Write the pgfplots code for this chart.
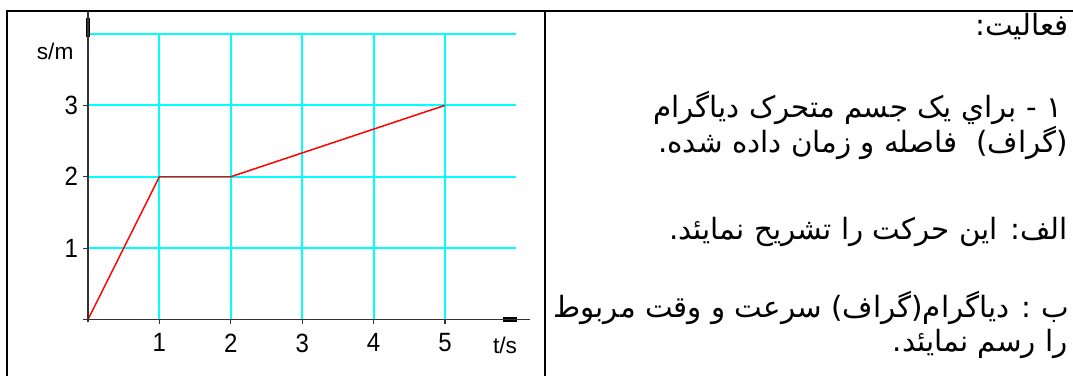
\documentclass[border=0pt]{standalone}
\usepackage{pgfplots}
\pgfplotsset{compat=1.18}
\usepackage{fontspec}
\setmainfont{Liberation Sans}
\newfontfamily\arabicfont[Script=Arabic]{DejaVu Sans}
\TeXXeTstate=1
\definecolor{gridcyan}{HTML}{00FFFF}
\definecolor{plotred}{HTML}{FF0000}
\definecolor{axisgray}{HTML}{333333}

\begin{document}
\begin{tikzpicture}[x=0.75pt,y=0.75pt]
\useasboundingbox (0,0) rectangle (1073,376);
% table frame
\draw[line width=1.5pt] (7,0) -- (7,365) -- (1073,365);
\draw[line width=1.5pt] (545,0) -- (545,365);

\begin{axis}[
    at={(83pt*0.75,53.6pt*0.75)}, anchor=south west,
    x=53.55pt, y=53.55pt,
    xmin=-0.07, xmax=6.19,
    ymin=-0.04, ymax=4.32,
    axis lines=middle,
    axis on top,
    axis line style={-, draw=axisgray, line width=0.9pt},
    tick align=outside,
    major tick length=3.5pt,
    tick style={axisgray, line width=0.9pt},
    xtick={1,2,3,4,5}, ytick={1,2,3},
    ticklabel style={font=\fontsize{18}{18}\selectfont, yscale=1.1},
    xticklabel style={yshift=-3pt},
    yticklabel style={xshift=-0.5pt},
    /pgf/number format/assume math mode=true,
    clip=false,
]
% grid
\pgfplotsinvokeforeach{1,2,3,4,5}{
    \draw[gridcyan, line width=1.4pt] (axis cs:#1,0) -- (axis cs:#1,4);
}
\pgfplotsinvokeforeach{1,2,3,4}{
    \draw[gridcyan, line width=1.4pt] (axis cs:0,#1) -- (axis cs:6,#1);
}
% distance-time line
\addplot[plotred, line width=1.1pt, mark=none] coordinates {
    (0,0) (1,2) (2,2) (5,3)
};
% arrow stubs at the axis ends
\draw[black, line width=3.6pt] (axis cs:5.81,0) -- (axis cs:6.01,0);
\draw[black, line width=3.6pt] (axis cs:0,3.96) -- (axis cs:0,4.22);
\node[font=\fontsize{17}{17}\selectfont] at (axis cs:-0.46,3.75) {s/m};
\node[font=\fontsize{17}{17}\selectfont] at (axis cs:5.84,-0.36) {t/s};
\end{axis}

% question text
\begin{scope}[every node/.style={anchor=base east, inner sep=0pt,
        font=\arabicfont\fontsize{22}{26}\selectfont}]
\node at (1069,341) {\beginR فعاليت:\endR};
\node at (1062,259) {\beginR ١ - براي يک جسم متحرک دياگرام\endR};
\node at (1068,224) {\beginR (گراف)\ \ فاصله و زمان داده شده.\endR};
\node at (1068,137) {\beginR الف: اين حرکت را تشريح نمايئد.\endR};
\node at (1069,59) {\beginR ب : دياگرام(گراف) سرعت و وقت مربوط\endR};
\node at (1068,25) {\beginR را رسم نمايئد.\endR};
\end{scope}
\end{tikzpicture}
\end{document}
